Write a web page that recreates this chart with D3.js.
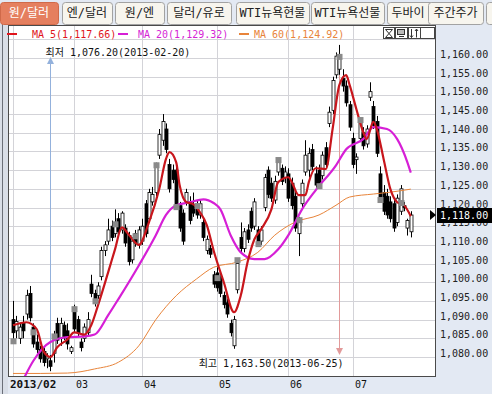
<!DOCTYPE html>
<html>
<head>
<meta charset="utf-8">
<script src="https://cdn.jsdelivr.net/npm/d3@7/dist/d3.min.js"></script>
<style>
  body { margin: 0; background: #e3e9f3; }
  svg { display: block; }
  text { font-family: 'DejaVu Sans Mono', 'Noto Sans CJK KR', monospace; }
</style>
</head>
<body>
<div id="chart"></div>
<script>
// tabs
const tabLabels = ['원/달러', '엔/달러', '원/엔', '달러/유로', 'WTI뉴욕현물', 'WTI뉴욕선물', '두바이', '주간주가'];

// x axis: first candle index of every month
const monthStart = [0, 18, 38, 60, 81, 100];
const monthLabels = ['2013/02', '03', '04', '05', '06', '07'];

// y axis ticks
const priceTicks = [1080, 1085, 1090, 1095, 1100, 1105, 1110, 1115, 1120, 1125, 1130, 1135, 1140, 1145, 1150, 1155, 1160];

// daily candles (원/달러), Feb 2013 .. Jul 2013
const open = [
  1090, 1087, 1085, 1089, 1091.5, 1097, 1088, 1084, 1082, 1081.5, 1079.5, 1079, 1081, 1089, 1085, 1088.5, 1087, 1081.5,
  1093, 1090, 1084, 1085, 1086.5, 1099.5, 1097, 1096.5, 1101.5, 1108.5, 1111, 1115, 1113, 1117, 1114, 1114.5, 1112.5, 1106, 1113, 1110,
  1111, 1121, 1117, 1121.5, 1124, 1134, 1138, 1141, 1131.5, 1130, 1130, 1120.5, 1118.5, 1121.5, 1121.5, 1120.5, 1121, 1118, 1116, 1108.5, 1109, 1102,
  1102.5, 1101.5, 1096.5, 1094.5, 1089, 1083, 1098, 1112, 1109, 1114, 1119, 1115, 1114, 1111, 1120, 1130, 1126.5, 1122, 1129.5, 1130.5, 1128,
  1129, 1126.5, 1123, 1113, 1121, 1129.5, 1130, 1135.5, 1129, 1130, 1128.5, 1136, 1142.5, 1146, 1155.5, 1157, 1154.5, 1152.5, 1147.5,
  1138.5, 1132.8, 1138.5, 1140, 1137, 1149.5, 1147, 1143, 1129, 1124, 1123, 1121.5, 1121, 1116, 1119, 1120.5, 1114.5, 1113.5
];
const high = [
  1095, 1091, 1089, 1091, 1098, 1099, 1089, 1086, 1083, 1082.5, 1081, 1080.5, 1087, 1090.5, 1090.5, 1089.5, 1089, 1083,
  1094, 1091, 1085, 1089, 1092, 1102, 1098, 1100, 1109.5, 1111, 1117, 1116.5, 1119.5, 1118.5, 1119, 1115.5, 1113.5, 1112, 1114, 1115,
  1117, 1122, 1125, 1125.5, 1132, 1141, 1145, 1142.5, 1133, 1131.5, 1131, 1121.5, 1119.5, 1125, 1123, 1124, 1122, 1122, 1117, 1112.5, 1110, 1103,
  1104, 1103, 1097.5, 1095.5, 1090, 1091, 1106, 1116, 1114.5, 1115.5, 1120, 1122.5, 1115, 1115, 1129, 1131, 1128, 1128.5, 1133, 1131.5, 1131,
  1130.5, 1128, 1124.5, 1117.5, 1127.5, 1138, 1136, 1137, 1131, 1131.5, 1135, 1137.5, 1147, 1155, 1161.5, 1163.5, 1157, 1154, 1148.5,
  1140, 1134.5, 1144, 1141.5, 1142, 1153.5, 1148.5, 1144.5, 1131, 1126, 1125, 1123, 1122, 1123.5, 1126, 1121.5, 1117, 1119
];
const low = [
  1084.5, 1085, 1083.5, 1085, 1090, 1089.5, 1082.5, 1081, 1078.5, 1077.5, 1077, 1076.2, 1078.5, 1083.5, 1083, 1084.5, 1082, 1080.8,
  1086.5, 1085.5, 1081.5, 1084, 1085.5, 1096, 1093.5, 1095.5, 1100.5, 1107, 1110, 1111, 1112, 1112.5, 1113, 1109.5, 1104.5, 1105, 1109.5, 1109,
  1110, 1112, 1116, 1120.5, 1123, 1133, 1136.5, 1134.5, 1124, 1126.5, 1119.5, 1113.5, 1110, 1120.5, 1115.5, 1117.5, 1117, 1117, 1111, 1107.5, 1106.5, 1098.5,
  1097.5, 1096, 1093, 1090.5, 1085.5, 1082.2, 1097, 1108, 1108, 1110.5, 1113.5, 1114, 1109.5, 1110, 1119, 1122.5, 1121.5, 1121, 1128.5, 1126, 1126.5,
  1121.5, 1119.5, 1113.5, 1107, 1120, 1128.5, 1128, 1130, 1125, 1125, 1127.5, 1130.5, 1141.5, 1145, 1154.5, 1155.5, 1151, 1147, 1140.5,
  1130.5, 1129, 1137.5, 1135.5, 1136, 1148.5, 1141, 1133.5, 1121.5, 1118, 1117, 1116, 1113.5, 1115, 1118, 1119, 1112.5, 1112
];
const close = [
  1086.5, 1089.5, 1088, 1087, 1096.5, 1090.5, 1083.5, 1082, 1079.5, 1078.5, 1080, 1077.5, 1085.5, 1084.5, 1089, 1085.5, 1083.5, 1082.5,
  1087.5, 1086.5, 1082.5, 1088, 1090, 1097, 1094.5, 1099, 1108.5, 1110, 1114, 1112, 1116, 1113.5, 1118.5, 1110.5, 1105.5, 1111, 1110.5, 1114,
  1115, 1113, 1124, 1123.5, 1131, 1139.5, 1143, 1135.5, 1125, 1127.5, 1120.5, 1114.5, 1111, 1124, 1116.5, 1118.5, 1118, 1121, 1112, 1111.5, 1107.5, 1099.5,
  1098.5, 1097, 1094, 1091.5, 1086.5, 1090, 1105, 1109, 1113.5, 1111.5, 1114.5, 1121.5, 1110.5, 1114, 1128, 1123.5, 1122.5, 1127, 1132, 1127, 1129.5,
  1122.5, 1120.5, 1114.5, 1116.5, 1126.5, 1134, 1134.5, 1131, 1126, 1126, 1134, 1131.5, 1145.5, 1154, 1160.5, 1160, 1152.5, 1148, 1141.5,
  1131.5, 1133.5, 1143, 1136.5, 1141, 1151, 1142, 1134.5, 1122.5, 1119, 1118, 1117, 1114.5, 1122.5, 1125, 1120, 1116.5, 1118
];

// gray markers
const markIdx = [0, 6, 12, 18, 24, 30, 36, 42, 48, 54, 60, 66, 72, 78, 84, 90, 96, 102, 108, 114];
const markVal = [1084.2, 1086.6, 1085.5, 1092.8, 1094.9, 1115.5, 1112.3, 1131.3, 1120.1, 1120.4, 1101.1, 1105.9, 1110.2, 1132.7, 1116.6, 1125.7, 1160.3, 1143.4, 1122, 1121.2];

// moving averages at candle indexes
const ma5Idx = [0, 4, 7, 9, 11, 13, 16, 18, 21, 23, 25, 28, 30, 32, 34, 37, 40, 43, 45, 46, 48, 49, 51, 53, 55, 57, 59, 62, 65, 67, 69, 71, 73, 76, 78, 81, 82, 84, 86, 87, 89, 92, 94, 96, 98, 99, 101, 103, 104, 106, 107, 109, 111, 113, 115, 117];
const ma5Val = [1088.5, 1089.3, 1087.4, 1081.5, 1080, 1082.6, 1084.7, 1086.6, 1086, 1088.5, 1093.8, 1102.7, 1108.8, 1114.7, 1112.8, 1110, 1116.1, 1124.9, 1133, 1134.8, 1132.1, 1126, 1121.4, 1120.9, 1118.7, 1115.3, 1108.5, 1100, 1092, 1096.5, 1105.4, 1111.5, 1114.2, 1119.5, 1126.8, 1128.1, 1126.8, 1123.3, 1123.3, 1126.8, 1130.5, 1130.3, 1141, 1152.8, 1155.4, 1152.8, 1146.3, 1140.2, 1138.3, 1142.9, 1141, 1133, 1124.9, 1121.4, 1120.6, 1117.66];
const ma20Idx = [2, 6, 11, 16, 21, 24, 28, 31, 37, 42, 45, 48, 52, 56, 59, 61, 64, 67, 71, 74, 78, 81, 85, 89, 95, 98, 103, 106, 110, 113, 116, 117];
const ma20Val = [1072, 1079, 1084, 1085.3, 1085.5, 1086, 1091.2, 1095.5, 1104.5, 1112.6, 1118, 1120.6, 1121.4, 1122.2, 1121.2, 1119.5, 1112.6, 1108, 1106.2, 1106.2, 1108.8, 1112.6, 1119.5, 1124.6, 1131.3, 1135.6, 1138.3, 1141.5, 1141, 1138.3, 1132.1, 1129.32];
const ma60Idx = [0, 8, 16, 24, 31, 37, 42, 48, 54, 59, 66, 72, 77, 83, 90, 95, 99, 106, 111, 117];
const ma60Val = [1075.6, 1075.6, 1075.7, 1076.8, 1078.6, 1083, 1090, 1096.4, 1100.9, 1104, 1105.4, 1108, 1112.6, 1116.1, 1118, 1120.6, 1122.8, 1123.6, 1124.1, 1124.92];

const lowDate = '2013-02-20';
const highDate = '2013-06-25';

const width = 492;
const height = 394;
const plot = { left: 8, right: 435, top: 25, bottom: 376 };

const x = d3.scaleLinear()
  .domain([0, close.length - 1])
  .range([13, 410.8]);
const y = d3.scaleLinear()
  .domain([1080, 1160])
  .range([357, 58]);
const fmt = d3.format(',.2f');

const svg = d3.select('#chart').append('svg')
  .attr('width', width)
  .attr('height', height);

svg.append('rect')
  .attr('width', width).attr('height', height)
  .attr('fill', '#e3e9f3');

// left strip
svg.append('rect')
  .attr('x', 0).attr('y', 23).attr('width', plot.left).attr('height', height - 23)
  .attr('fill', '#d9dee7');
svg.append('line')
  .attr('x1', 2.5).attr('x2', 2.5).attr('y1', 23).attr('y2', height)
  .attr('stroke', '#6b6f78');

// tabs
const tabPos = [[0, 58], [62, 112], [115, 164], [167, 231], [236, 309], [311, 384], [387, 441], [428, 483], [486, 500]];
const tabs = svg.append('g');
tabPos.forEach((p, i) => {
  const sel = i === 0;
  tabs.append('rect')
    .attr('x', p[0] + 0.5).attr('y', 2.5)
    .attr('width', p[1] - p[0]).attr('height', 22)
    .attr('rx', 3)
    .attr('fill', sel ? '#e57f5f' : '#f7f5ee')
    .attr('stroke', sel ? '#d06a4a' : '#a2a2a2');
  if (i < tabLabels.length) {
    tabs.append('text')
      .attr('x', (p[0] + p[1]) / 2 + (i === 6 ? -6 : 0))
      .attr('y', 13)
      .attr('text-anchor', 'middle')
      .attr('dominant-baseline', 'central')
      .attr('font-family', "'Noto Sans CJK KR', sans-serif")
      .attr('font-size', 12)
      .attr('fill', sel ? '#fff' : '#222')
      .text(tabLabels[i]);
  }
});

// plot area
svg.append('rect')
  .attr('x', plot.left + 0.5).attr('y', plot.top + 0.5)
  .attr('width', plot.right - plot.left).attr('height', plot.bottom - plot.top)
  .attr('fill', '#fff')
  .attr('stroke', '#4a4a4a');

svg.append('clipPath').attr('id', 'clip')
  .append('rect')
  .attr('x', plot.left + 1).attr('y', plot.top + 1)
  .attr('width', plot.right - plot.left - 1).attr('height', plot.bottom - plot.top - 1);

const grid = svg.append('g').attr('clip-path', 'url(#clip)');
grid.selectAll('.hg').data(priceTicks.concat([1165])).enter()
  .append('line')
  .attr('x1', plot.left).attr('x2', plot.right)
  .attr('y1', d => Math.round(y(d)) + 0.5).attr('y2', d => Math.round(y(d)) + 0.5)
  .attr('stroke', '#d3d3d8');
grid.selectAll('.vg').data(monthStart).enter()
  .append('line')
  .attr('x1', d => Math.round(x(d)) + 0.5).attr('x2', d => Math.round(x(d)) + 0.5)
  .attr('y1', plot.top).attr('y2', plot.bottom)
  .attr('stroke', '#d3d3d8');

const g = svg.append('g').attr('clip-path', 'url(#clip)');

// annotation lines
const iLow = d3.minIndex(low);
const iHigh = d3.maxIndex(high);
const xl = Math.round(x(iLow)) + 0.5;
const xh = Math.round(x(iHigh)) + 0.5;
g.append('line')
  .attr('x1', xl).attr('x2', xl).attr('y1', 60).attr('y2', y(high[iLow]))
  .attr('stroke', '#93b1dc');
g.append('path')
  .attr('d', `M${xl - 3.5},64L${xl + 3.5},64L${xl},57Z`)
  .attr('fill', '#93b1dc');
g.append('line')
  .attr('x1', xh).attr('x2', xh).attr('y1', y(low[iHigh])).attr('y2', 352)
  .attr('stroke', '#e29a9a');
g.append('path')
  .attr('d', `M${xh - 3.5},348L${xh + 3.5},348L${xh},355Z`)
  .attr('fill', '#e29a9a');

// candles
const idx = d3.range(close.length);
g.selectAll('.wick').data(idx).enter()
  .append('line')
  .attr('x1', i => Math.round(x(i)) + 0.5).attr('x2', i => Math.round(x(i)) + 0.5)
  .attr('y1', i => y(high[i])).attr('y2', i => y(low[i]))
  .attr('stroke', '#000');
g.selectAll('.body').data(idx).enter()
  .append('rect')
  .attr('x', i => Math.round(x(i)) - 1)
  .attr('y', i => y(Math.max(open[i], close[i])))
  .attr('width', 3)
  .attr('height', i => Math.max(1, Math.abs(y(open[i]) - y(close[i]))))
  .attr('fill', i => close[i] >= open[i] ? '#fff' : '#000')
  .attr('stroke', '#000')
  .attr('stroke-width', 0.8);

// moving averages
const line = d3.line()
  .curve(d3.curveMonotoneX)
  .x(d => x(d[0]))
  .y(d => y(d[1]));
g.append('path')
  .datum(d3.zip(ma60Idx, ma60Val))
  .attr('fill', 'none').attr('stroke', '#e8843a').attr('stroke-width', 1)
  .attr('d', line);
g.append('path')
  .datum(d3.zip(ma20Idx, ma20Val))
  .attr('fill', 'none').attr('stroke', '#d61fd6').attr('stroke-width', 2.2)
  .attr('d', line);
g.append('path')
  .datum(d3.zip(ma5Idx, ma5Val))
  .attr('fill', 'none').attr('stroke', '#c8161c').attr('stroke-width', 2.2)
  .attr('d', line);

// gray markers
g.selectAll('.mark').data(d3.zip(markIdx, markVal)).enter()
  .append('rect')
  .attr('x', d => Math.round(x(d[0])) - 2.5)
  .attr('y', d => y(d[1]) - 3)
  .attr('width', 6).attr('height', 6)
  .attr('fill', '#8a8a8a');

// legend
const legend = [
  { name: 'MA 5', v: ma5Val[ma5Val.length - 1], c: '#e0141c', x: 7, tx: 32 },
  { name: 'MA 20', v: ma20Val[ma20Val.length - 1], c: '#d61fd6', x: 118, tx: 138 },
  { name: 'MA 60', v: ma60Val[ma60Val.length - 1], c: '#e8843a', x: 239, tx: 254 }
];
legend.forEach(l => {
  svg.append('line')
    .attr('x1', l.x).attr('x2', l.x + 10).attr('y1', 34).attr('y2', 34)
    .attr('stroke', l.c).attr('stroke-width', 2);
  svg.append('text')
    .attr('x', l.tx).attr('y', 34)
    .attr('dominant-baseline', 'central')
    .attr('font-size', 10)
    .attr('fill', l.c)
    .text(`${l.name}(${fmt(l.v)})`);
});

// min / max labels
svg.append('text')
  .attr('x', xl - 5).attr('y', 52)
  .attr('dominant-baseline', 'central')
  .attr('font-size', 10)
  .attr('fill', '#111')
  .text(`최저 ${fmt(low[iLow])}(${lowDate})`);
svg.append('text')
  .attr('x', xh + 4).attr('y', 363)
  .attr('text-anchor', 'end')
  .attr('dominant-baseline', 'central')
  .attr('font-size', 10)
  .attr('fill', '#111')
  .text(`최고 ${fmt(high[iHigh])}(${highDate})`);

// tool icons
const tools = svg.append('g');
[[383, 394], [395, 407], [408, 420], [420, 434]].forEach((p, i) => {
  tools.append('rect')
    .attr('x', p[0] + 0.5).attr('y', 27.5)
    .attr('width', p[1] - p[0]).attr('height', 11)
    .attr('fill', '#fff').attr('stroke', '#444');
});
tools.append('path')
  .attr('d', 'M385.5,29.5L392.5,37.5M392.5,29.5L385.5,37.5M385.5,29.5H392.5M385.5,37.5H392.5')
  .attr('stroke', '#333').attr('fill', 'none');
tools.append('rect')
  .attr('x', 397.5).attr('y', 29.5).attr('width', 7).attr('height', 5)
  .attr('fill', '#bbb').attr('stroke', '#333');
tools.append('path')
  .attr('d', 'M399,36.5H404M411.5,29V37.5M410,35.5L411.5,37.5L413,35.5M416.5,29V37.5M415,31L416.5,29L418,31')
  .attr('stroke', '#333').attr('fill', 'none');

// right axis
const yAxis = svg.append('g')
  .attr('transform', `translate(${plot.right},0)`)
  .call(d3.axisRight(y)
    .tickValues(priceTicks)
    .tickFormat(fmt)
    .tickSize(0)
    .tickPadding(5));
yAxis.select('.domain').remove();
yAxis.selectAll('text')
  .attr('dy', '-0.05em')
  .attr('font-family', "'DejaVu Sans Mono', monospace")
  .attr('font-size', 10)
  .attr('fill', '#222');

// current price
const last = close[close.length - 1];
const cy = Math.round(y(last));
svg.append('path')
  .attr('d', `M430,${cy - 5}L436,${cy}L430,${cy + 5}Z`)
  .attr('fill', '#000');
svg.append('rect')
  .attr('x', 437).attr('y', cy - 7).attr('width', 55).attr('height', 15)
  .attr('fill', '#000');
svg.append('text')
  .attr('x', 440).attr('y', cy + 0.5)
  .attr('dominant-baseline', 'central')
  .attr('font-size', 10)
  .attr('fill', '#fff')
  .text(fmt(last));

// x labels
svg.selectAll('.xl').data(monthStart).enter()
  .append('text')
  .attr('x', (d, i) => i === 0 ? 10 : Math.round(x(d)) + 2)
  .attr('y', 384)
  .attr('dominant-baseline', 'central')
  .attr('font-size', (d, i) => i === 0 ? 11 : 10)
  .attr('font-weight', (d, i) => i === 0 ? 'bold' : 'normal')
  .attr('font-family', (d, i) => i === 0 ? "'DejaVu Sans', sans-serif" : null)
  .attr('fill', '#111')
  .text((d, i) => monthLabels[i]);
</script>
</body>
</html>
